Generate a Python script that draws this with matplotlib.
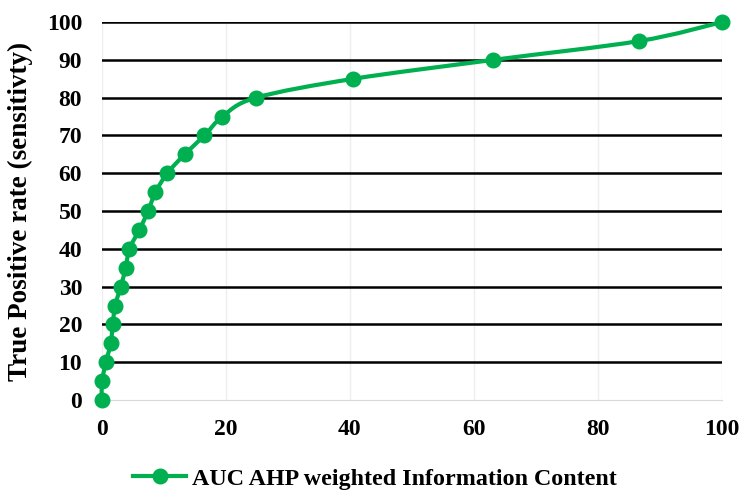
import numpy as np
import matplotlib
matplotlib.use('Agg')
import matplotlib.pyplot as plt
from matplotlib.path import Path
from matplotlib.patches import PathPatch
from matplotlib.lines import Line2D

# ROC points
fpr = [0.0, 0.1, 0.7, 1.5, 1.8, 2.2, 3.1, 3.9, 4.5, 6.1, 7.5, 8.7, 10.6,
       13.4, 16.6, 19.5, 24.9, 40.6, 63.1, 86.7, 100.0]
tpr = [0, 5, 10, 15, 20, 25, 30, 35, 40, 45, 50, 55, 60,
       65, 70, 75, 80, 85, 90, 95, 100]
x_ticks = [0, 20, 40, 60, 80, 100]
y_ticks = [0, 10, 20, 30, 40, 50, 60, 70, 80, 90, 100]
series_name = 'AUC AHP weighted Information Content'
green = '#00b050'

plt.rcParams['font.family'] = ['Liberation Serif', 'DejaVu Serif']
plt.rcParams['font.weight'] = 'bold'

fig = plt.figure(figsize=(7.41, 4.92), dpi=100)
ax = fig.add_axes([0.137, 0.187, 0.837, 0.768])


def smooth_path(xs, ys, t=1 / 6):
    # Catmull-Rom style smoothing like the spreadsheet "smoothed line"
    pts = np.column_stack([xs, ys])
    verts = [pts[0]]
    codes = [Path.MOVETO]
    n = len(pts)
    for i in range(n - 1):
        p0 = pts[i - 1] if i > 0 else pts[i]
        p1 = pts[i]
        p2 = pts[i + 1]
        p3 = pts[i + 2] if i + 2 < n else pts[i + 1]
        c1 = p1 + (p2 - p0) * t
        c2 = p2 - (p3 - p1) * t
        verts += [c1, c2, p2]
        codes += [Path.CURVE4] * 3
    return Path(verts, codes)


ax.add_patch(PathPatch(smooth_path(fpr, tpr), facecolor='none',
                       edgecolor=green, lw=3, clip_on=False, zorder=3))
ax.plot(fpr, tpr, 'o', color=green, ms=10.5, clip_on=False, zorder=4)

ax.set_xlim(0, 100)
ax.set_ylim(0, 100)
ax.set_xticks(x_ticks)
ax.set_yticks(y_ticks)
ax.tick_params(length=0, labelsize=17)
ax.tick_params(axis='x', pad=14)
ax.tick_params(axis='y', pad=14)
for lab in ax.get_xticklabels() + ax.get_yticklabels():
    lab.set_fontweight('bold')

for yv in y_ticks[1:]:
    ax.axhline(yv, color='black', lw=1.8, zorder=1)
for xv in x_ticks:
    ax.axvline(xv, color='#eeeeee', lw=1, zorder=0)
for s in ['top', 'right', 'left']:
    ax.spines[s].set_visible(False)
ax.spines['bottom'].set_color('#d9d9d9')

ax.set_ylabel('True Positive rate (sensitivty)', fontsize=19.5,
              fontweight='bold', labelpad=10)

handle = Line2D([], [], color=green, lw=3, marker='o', ms=10.5)
fig.legend([handle], [series_name], loc='center', bbox_to_anchor=(0.506, 0.027),
           frameon=False, prop={'size': 17.3, 'weight': 'bold'},
           handlelength=2.2, handletextpad=0.25)

fig.savefig('out.png', dpi=100)
